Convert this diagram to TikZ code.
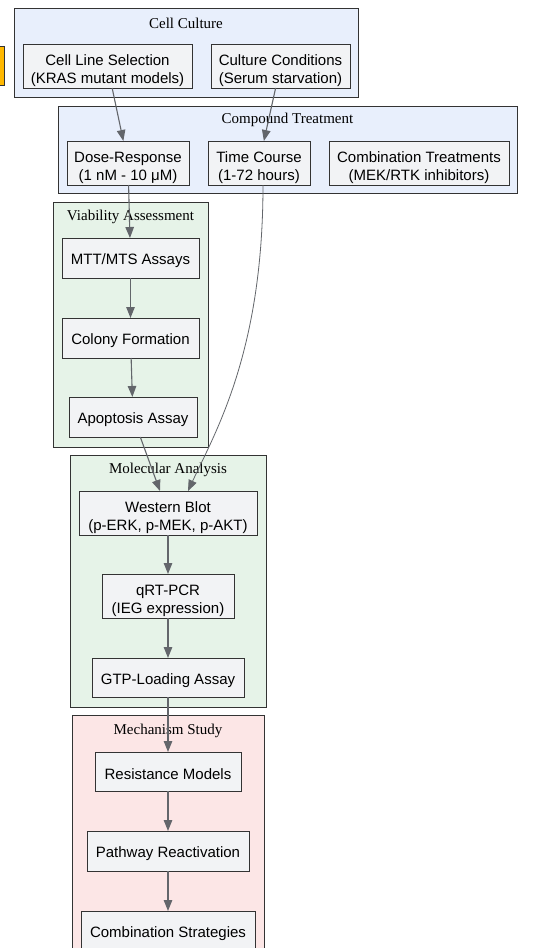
\documentclass[tikz,border=0pt]{standalone}
\usepackage{fontspec}
\setmainfont{Liberation Serif}
\setsansfont{Liberation Sans}
\usetikzlibrary{arrows.meta,calc}
\definecolor{bluefill}{HTML}{E8EFFC}
\definecolor{greenfill}{HTML}{E6F3E8}
\definecolor{pinkfill}{HTML}{FCE6E6}
\definecolor{nodefill}{HTML}{F2F3F5}
\definecolor{edgecol}{HTML}{63666B}
\definecolor{bordercol}{HTML}{333333}
\definecolor{orangefill}{HTML}{FFB800}
\newcommand{\mytopstrut}{\rule{0pt}{20.5pt}}
\tikzset{
  cluster/.style={draw=bordercol, line width=0.9pt, inner sep=0pt, outer sep=0pt},
  ctitle/.style={font=\rmfamily\fontsize{15}{18}\selectfont, inner sep=0pt},
  boxbase/.style={draw=bordercol, fill=nodefill, line width=0.9pt, inner sep=0pt, outer sep=0pt,
    align=center, font=\sffamily\fontsize{15}{17.6}\selectfont},
  box/.style={boxbase, execute at begin node={\rule{0pt}{16.2pt}}},
  boxtwo/.style={boxbase},
  conn/.style={draw=edgecol, line width=1.1pt, -{Triangle[length=11pt,width=8.5pt]}},
  thinconn/.style={draw=edgecol, line width=0.8pt, -{Triangle[length=11pt,width=8.5pt]}}
}
\begin{document}
\begin{tikzpicture}[x=1pt,y=-1pt]
\useasboundingbox (0,0) rectangle (534,948);
\clip (0,0) rectangle (534,948);
\fill[white] (0,0) rectangle (534,948);
% partially visible orange box
\node[draw=bordercol, fill=orangefill, line width=0.9pt, minimum width=18pt, minimum height=39pt, inner sep=0pt] (orange) at (-5,65.5) {};
% clusters
\node[cluster, fill=bluefill, minimum width=344pt, minimum height=89pt] (cc) at (186,52.5) {};
\node[ctitle] (cct) at (186,23) {Cell Culture};
\node[cluster, fill=bluefill, minimum width=459pt, minimum height=87pt] (ct) at (287.5,149.5) {};
\node[ctitle] (ctt) at (287.5,120) {Compound Treatment};
\node[cluster, fill=greenfill, minimum width=155pt, minimum height=245pt] (va) at (130.5,324.5) {};
\node[ctitle] (vat) at (130.5,217) {Viability Assessment};
\node[cluster, fill=greenfill, minimum width=196pt, minimum height=252pt] (ma) at (168,581) {};
\node[ctitle] (mat) at (168,470) {Molecular Analysis};
\node[cluster, fill=pinkfill, minimum width=192pt, minimum height=260pt] (ms) at (168,845) {};
\node[ctitle] (mst) at (168,731) {Mechanism Study};
% nodes
\node[boxtwo, minimum width=169pt, minimum height=44pt] (cls) at (107.5,66) {\mytopstrut Cell Line Selection\\(KRAS mutant models)};
\node[boxtwo, minimum width=139pt, minimum height=44pt] (ccond) at (280.5,66) {\mytopstrut Culture Conditions\\(Serum starvation)};
\node[boxtwo, minimum width=122pt, minimum height=44pt] (dose) at (128,163) {\mytopstrut Dose-Response\\(1 nM - 10 μM)};
\node[boxtwo, minimum width=102pt, minimum height=44pt] (time) at (259,163) {\mytopstrut Time Course\\(1-72 hours)};
\node[boxtwo, minimum width=180pt, minimum height=44pt] (combo) at (419,163) {\mytopstrut Combination Treatments\\(MEK/RTK inhibitors)};
\node[box, minimum width=137pt, minimum height=40pt] (mtt) at (130.5,258) {MTT/MTS Assays};
\node[box, minimum width=137pt, minimum height=40pt] (colony) at (130.5,338) {Colony Formation};
\node[box, minimum width=128pt, minimum height=40pt] (apop) at (133,417) {Apoptosis Assay};
\node[boxtwo, minimum width=178pt, minimum height=44pt] (wb) at (168,513) {\mytopstrut Western Blot\\(p-ERK, p-MEK, p-AKT)};
\node[boxtwo, minimum width=132pt, minimum height=44pt] (qrt) at (168,596) {\mytopstrut qRT-PCR\\(IEG expression)};
\node[box, minimum width=152pt, minimum height=39pt] (gtp) at (168,677.5) {GTP-Loading Assay};
\node[box, minimum width=146pt, minimum height=39pt] (res) at (168,771.5) {Resistance Models};
\node[box, minimum width=162pt, minimum height=40pt] (pathr) at (168,851) {Pathway Reactivation};
\node[box, minimum width=174pt, minimum height=40pt] (cstrat) at (168,931) {Combination Strategies};
% connectors
\draw[conn] (cls) -- (dose);
\draw[conn] (ccond) -- (time);
\draw[conn] (dose) -- (mtt);
\draw[thinconn] ([xshift=4pt]time.south) .. controls +(0,166) and +(28,-60) .. ([xshift=20pt]wb.north);
\draw[conn] (mtt) -- (colony);
\draw[conn] (colony) -- (apop);
\draw[conn] (apop) -- (wb);
\draw[conn] (wb) -- (qrt);
\draw[conn] (qrt) -- (gtp);
\draw[conn] (gtp) -- (res);
\draw[conn] (res) -- (pathr);
\draw[conn] (pathr) -- (cstrat);
\end{tikzpicture}
\end{document}
